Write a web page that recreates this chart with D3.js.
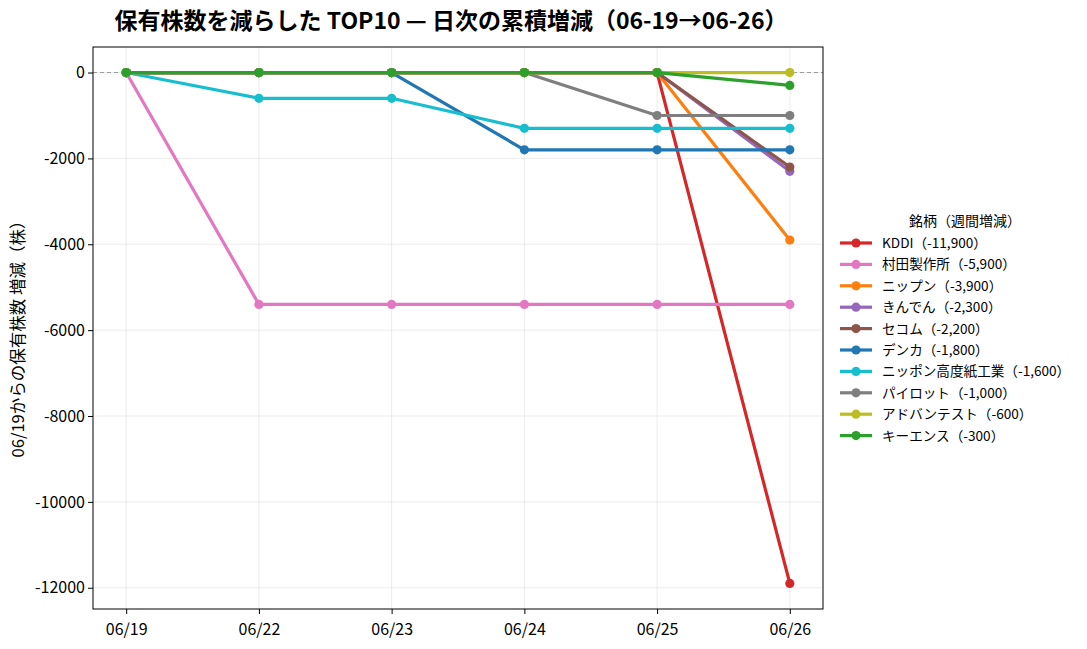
<!DOCTYPE html>
<html><head><meta charset="utf-8">
<script src="https://cdn.jsdelivr.net/npm/d3@7"></script>
<style>body{margin:0;background:#fff;font-family:"Noto Sans CJK JP","Noto Sans",sans-serif;}</style>
</head><body><svg id="c" width="1087" height="649"></svg>
<script>
const dates = ["06/19","06/22","06/23","06/24","06/25","06/26"];
const names = ["KDDI","村田製作所","ニップン","きんでん","セコム","デンカ","ニッポン高度紙工業","パイロット","アドバンテスト","キーエンス"];
const weekly = ["-11,900","-5,900","-3,900","-2,300","-2,200","-1,800","-1,600","-1,000","-600","-300"];
const colors = ["#d62728","#e377c2","#ff7f0e","#9467bd","#8c564b","#1f77b4","#17becf","#7f7f7f","#bcbd22","#2ca02c"];
const vKDDI = [0,0,0,0,0,-11900];
const vMurata = [0,-5400,-5400,-5400,-5400,-5400];
const vNippn = [0,0,0,0,0,-3900];
const vKinden = [0,0,0,0,0,-2300];
const vSecom = [0,0,0,0,0,-2200];
const vDenka = [0,0,0,-1800,-1800,-1800];
const vNKK = [0,-600,-600,-1300,-1300,-1300];
const vPilot = [0,0,0,0,-1000,-1000];
const vAdvantest = [0,0,0,0,0,0];
const vKeyence = [0,0,0,0,0,-300];
const series = [vKDDI,vMurata,vNippn,vKinden,vSecom,vDenka,vNKK,vPilot,vAdvantest,vKeyence];
const yTicks = [0,-2000,-4000,-6000,-8000,-10000,-12000];

const svg = d3.select("#c");
const L=93,R=823,T=47,B=609;
const x = d3.scaleLinear().domain([-0.25,5.25]).range([L,R]);
const y = d3.scaleLinear().domain([-12495,595]).range([B,T]);

// grid
svg.append("g").selectAll("line").data(d3.range(dates.length)).join("line")
 .attr("x1",d=>x(d)).attr("x2",d=>x(d)).attr("y1",T).attr("y2",B).attr("stroke","#b0b0b0").attr("stroke-opacity",0.3).attr("stroke-width",0.8);
svg.append("g").selectAll("line").data(yTicks).join("line")
 .attr("y1",d=>y(d)).attr("y2",d=>y(d)).attr("x1",L).attr("x2",R).attr("stroke","#b0b0b0").attr("stroke-opacity",0.3).attr("stroke-width",0.8);
// zero line
svg.append("line").attr("x1",L).attr("x2",R).attr("y1",y(0)).attr("y2",y(0)).attr("stroke","#999").attr("stroke-width",1).attr("stroke-dasharray","4,3");

const line = d3.line().x((d,i)=>x(i)).y(d=>y(d));
series.forEach((s,k)=>{
  const g = svg.append("g");
  g.append("path").datum(s).attr("d",line).attr("fill","none").attr("stroke",colors[k]).attr("stroke-width",3.2).attr("stroke-linejoin","round");
  g.selectAll("circle").data(s).join("circle").attr("cx",(d,i)=>x(i)).attr("cy",d=>y(d)).attr("r",4.6).attr("fill",colors[k]);
});

// axes
const xa = svg.append("g").attr("transform",`translate(0,${B})`).call(d3.axisBottom(x).tickValues(d3.range(dates.length)).tickFormat(i=>dates[i]).tickSize(5).tickSizeOuter(0));
const ya = svg.append("g").attr("transform",`translate(${L},0)`).call(d3.axisLeft(y).tickValues(yTicks).tickFormat(d=>String(d)).tickSize(5).tickSizeOuter(0));
[xa,ya].forEach(a=>{a.select(".domain").remove();a.selectAll("text").attr("font-size",16).attr("fill","#000").attr("font-family","'Noto Sans CJK JP',sans-serif");a.selectAll("line").attr("stroke","#000");});
xa.selectAll("text").attr("dy","1.1em");
ya.selectAll("text").attr("x",-8);
svg.append("rect").attr("x",L).attr("y",T).attr("width",R-L).attr("height",B-T).attr("fill","none").attr("stroke","#000").attr("stroke-width",1);

// title
svg.append("text").attr("x",451).attr("y",29).attr("text-anchor","middle").attr("font-size",23).attr("font-weight","bold").text("保有株数を減らした TOP10 — 日次の累積増減（06-19→06-26）");
svg.append("text").attr("transform",`translate(24,${335}) rotate(-90)`).attr("text-anchor","middle").attr("font-size",16.5).text("06/19からの保有株数 増減（株）");

// legend
const lg = svg.append("g");
lg.append("text").attr("x",965).attr("y",226).attr("text-anchor","middle").attr("font-size",14).text("銘柄（週間増減）");
names.forEach((n,k)=>{
  const yy = 243 + k*21.4;
  lg.append("line").attr("x1",840).attr("x2",872).attr("y1",yy).attr("y2",yy).attr("stroke",colors[k]).attr("stroke-width",3.2);
  lg.append("circle").attr("cx",856).attr("cy",yy).attr("r",4.6).attr("fill",colors[k]);
  lg.append("text").attr("x",882).attr("y",yy+5).attr("font-size",13.6).text(`${n}（${weekly[k]}）`);
});
</script></body></html>
